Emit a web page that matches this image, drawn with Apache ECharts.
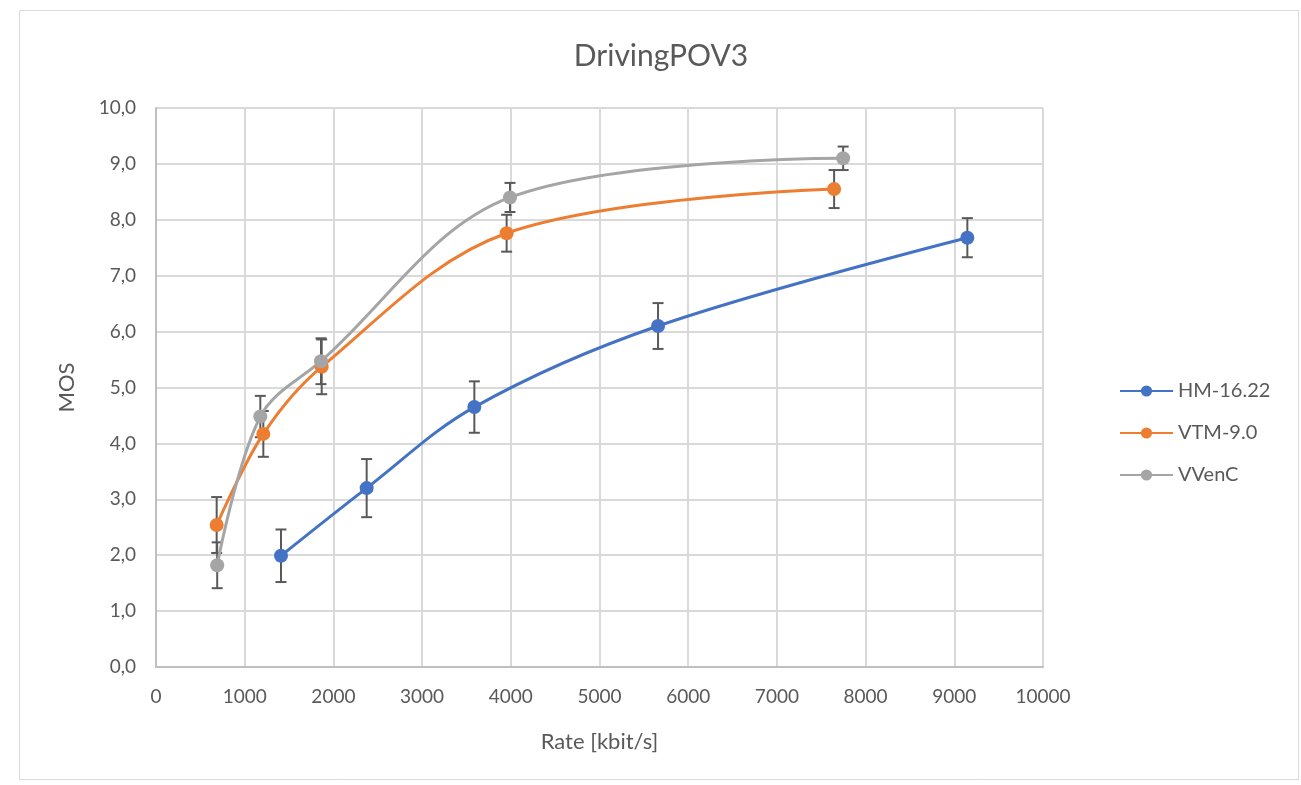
<!DOCTYPE html>
<html><head><meta charset="utf-8">
<script src="https://cdn.jsdelivr.net/npm/echarts@6/dist/echarts.min.js"></script>
<style>html,body{margin:0;padding:0;background:#fff}#c{width:1301px;height:785px}</style>
</head><body><div id="c"></div>
<script>
const seriesNames = ['HM-16.22', 'VTM-9.0', 'VVenC'];
const colors = ['#4472C4', '#ED7D31', '#A5A5A5'];
const hmRate = [1409, 2375, 3589, 5660, 9147];
const hmMos = [1.99, 3.20, 4.65, 6.10, 7.68];
const hmErr = [0.47, 0.52, 0.46, 0.41, 0.35];
const vtmRate = [684, 1210, 1868, 3953, 7645];
const vtmMos = [2.54, 4.17, 5.37, 7.76, 8.55];
const vtmErr = [0.50, 0.41, 0.49, 0.33, 0.34];
const vvcRate = [690, 1176, 1860, 3991, 7747];
const vvcMos = [1.82, 4.48, 5.47, 8.40, 9.10];
const vvcErr = [0.41, 0.37, 0.41, 0.26, 0.21];

const rates = [hmRate, vtmRate, vvcRate];
const mos = [hmMos, vtmMos, vvcMos];
const errs = [hmErr, vtmErr, vvcErr];

const font = 'Lato, "Open Sans", sans-serif';
const textColor = '#595959';

const series = [];
seriesNames.forEach((name, i) => {
  series.push({
    name: name, type: 'line', smooth: 0.35,
    data: rates[i].map((r, k) => [r, mos[i][k]]),
    symbol: 'circle', symbolSize: 14,
    lineStyle: { width: 3, color: colors[i] },
    itemStyle: { color: colors[i] },
    z: 3
  });
  series.push({
    type: 'custom', name: name + ' err', silent: true, z: 2,
    data: rates[i].map((r, k) => [r, mos[i][k] - errs[i][k], mos[i][k] + errs[i][k]]),
    renderItem: function (params, api) {
      const x = api.value(0);
      const lo = api.coord([x, api.value(1)]);
      const hi = api.coord([x, api.value(2)]);
      const w = 5.5;
      const st = { stroke: '#595959', lineWidth: 2 };
      return { type: 'group', children: [
        { type: 'line', shape: { x1: lo[0], y1: lo[1], x2: hi[0], y2: hi[1] }, style: st },
        { type: 'line', shape: { x1: lo[0] - w, y1: lo[1], x2: lo[0] + w, y2: lo[1] }, style: st },
        { type: 'line', shape: { x1: hi[0] - w, y1: hi[1], x2: hi[0] + w, y2: hi[1] }, style: st }
      ]};
    }
  });
});

const chart = echarts.init(document.getElementById('c'));
chart.setOption({
  animation: false,
  backgroundColor: '#fff',
  graphic: [{ type: 'rect', left: 17, top: 8, shape: { width: 1279, height: 769 },
    style: { fill: 'none', stroke: '#d9d9d9', lineWidth: 1 }, silent: true, z: -10 }],
  title: { text: 'DrivingPOV3', left: 656, textAlign: 'center', top: 36,
    textStyle: { fontFamily: font, fontSize: 30, fontWeight: 'normal', color: textColor } },
  legend: {
    data: seriesNames, orient: 'vertical', left: 1114, top: 376, itemGap: 22,
    itemWidth: 53, itemHeight: 14,
    textStyle: { fontFamily: font, fontSize: 20, color: textColor }
  },
  grid: { left: 156, top: 108, width: 887, height: 559, containLabel: false },
  xAxis: {
    type: 'value', min: 0, max: 10000, interval: 1000,
    name: 'Rate [kbit/s]', nameLocation: 'middle', nameGap: 64,
    nameTextStyle: { fontFamily: font, fontSize: 22, color: textColor },
    axisLine: { show: true, lineStyle: { color: '#bfbfbf', width: 2 } },
    axisTick: { show: false },
    axisLabel: { fontFamily: font, fontSize: 19, color: textColor, margin: 20,
      formatter: v => String(v) },
    splitLine: { show: true, lineStyle: { color: '#d9d9d9', width: 2 } }
  },
  yAxis: {
    type: 'value', min: 0, max: 10, interval: 1,
    name: 'MOS', nameLocation: 'middle', nameGap: 78, nameRotate: 90,
    nameTextStyle: { fontFamily: font, fontSize: 22, color: textColor },
    axisLine: { show: true, lineStyle: { color: '#bfbfbf', width: 2 } },
    axisTick: { show: false },
    axisLabel: { fontFamily: font, fontSize: 19, color: textColor, margin: 20,
      formatter: v => v.toFixed(1).replace('.', ',') },
    splitLine: { show: true, lineStyle: { color: '#d9d9d9', width: 2 } }
  },
  series: series
});
</script></body></html>
